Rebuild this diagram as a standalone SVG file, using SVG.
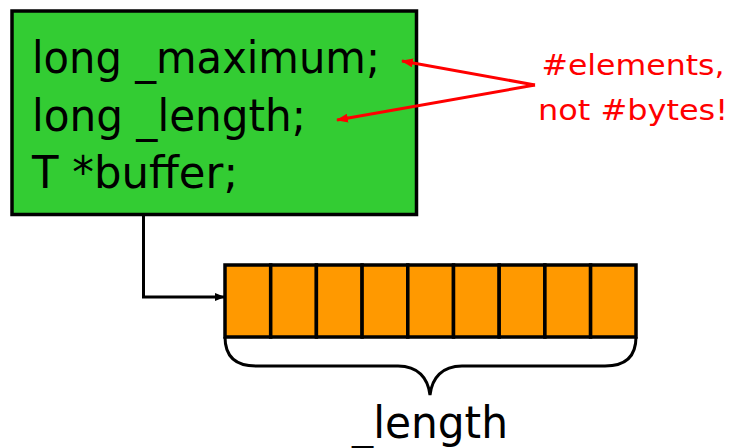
<svg xmlns="http://www.w3.org/2000/svg" width="733" height="448" viewBox="0 0 733 448">
  <style>
    .code { font-family: "DejaVu Sans", Verdana, sans-serif; font-size: 45px; fill: #000; }
    .note { font-family: "DejaVu Sans", Verdana, sans-serif; font-size: 29px; fill: #FF0000; text-anchor: middle; }
    .cell { fill: #FF9900; stroke: #000; stroke-width: 3.5; }
    .wire { fill: none; stroke: #000; stroke-width: 3; }
    .red { fill: none; stroke: #FF0000; stroke-width: 3; }
  </style>
  <defs>
    <marker id="blackHead" viewBox="0 0 10 8" refX="9" refY="4" markerWidth="10" markerHeight="8" orient="auto" markerUnits="userSpaceOnUse">
      <path d="M0,0 L10,4 L0,8 z" fill="#000"/>
    </marker>
    <marker id="redHead" viewBox="0 0 12 9" refX="11" refY="4.5" markerWidth="12" markerHeight="9" orient="auto" markerUnits="userSpaceOnUse">
      <path d="M0,0 L12,4.5 L0,9 z" fill="#FF0000"/>
    </marker>
  </defs>

  <!-- struct fields -->
  <g id="struct">
    <rect x="12" y="11" width="404.5" height="203.5" fill="#33CC33" stroke="#000" stroke-width="3.5"/>
    <text class="code" x="32" y="73" textLength="348" lengthAdjust="spacingAndGlyphs">long _maximum;</text>
    <text class="code" x="32" y="131" textLength="274" lengthAdjust="spacingAndGlyphs">long _length;</text>
    <text class="code" x="32" y="188" textLength="206" lengthAdjust="spacingAndGlyphs">T *buffer;</text>
  </g>

  <!-- element buffer -->
  <g id="buffer">
    <rect class="cell" x="225" y="265" width="45.7" height="72"/>
    <rect class="cell" x="270.7" y="265" width="45.7" height="72"/>
    <rect class="cell" x="316.4" y="265" width="45.7" height="72"/>
    <rect class="cell" x="362.1" y="265" width="45.7" height="72"/>
    <rect class="cell" x="407.8" y="265" width="45.7" height="72"/>
    <rect class="cell" x="453.5" y="265" width="45.7" height="72"/>
    <rect class="cell" x="499.2" y="265" width="45.7" height="72"/>
    <rect class="cell" x="544.9" y="265" width="45.7" height="72"/>
    <rect class="cell" x="590.6" y="265" width="45.4" height="72"/>
  </g>

  <!-- brace and its label -->
  <g id="length-brace">
    <path class="wire" d="M225,337 C225,356 235,366 256,366 L398,366 C418,366 428,378 430,395 C432,378 442,366 462,366 L605,366 C626,366 636,356 636,337"/>
    <text x="430" y="438" font-family="'DejaVu Sans', Verdana, sans-serif" font-size="45" text-anchor="middle" textLength="156" lengthAdjust="spacingAndGlyphs">_length</text>
  </g>

  <!-- annotation -->
  <g id="note">
    <text class="note" x="633" y="75" textLength="183" lengthAdjust="spacingAndGlyphs">#elements,</text>
    <text class="note" x="633" y="120" textLength="190" lengthAdjust="spacingAndGlyphs">not #bytes!</text>
  </g>

  <!-- connectors -->
  <g id="connectors">
    <path class="wire" d="M143.5,215 L143.5,297 L224,297" marker-end="url(#blackHead)"/>
    <path class="red" d="M535,85 L402,61" marker-end="url(#redHead)"/>
    <path class="red" d="M535,85 L337,120" marker-end="url(#redHead)"/>
  </g>
</svg>
